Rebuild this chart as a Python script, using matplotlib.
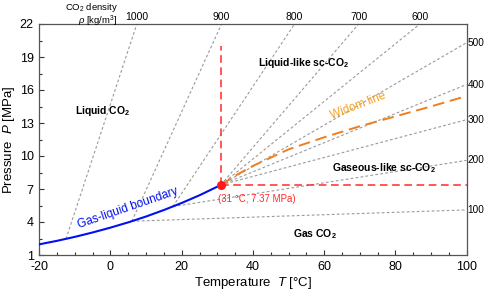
import matplotlib
matplotlib.use("Agg")
import matplotlib.pyplot as plt
import numpy as np

plt.rcParams['font.family'] = ['Liberation Sans', 'DejaVu Sans']
plt.rcParams['mathtext.fontset'] = 'custom'
plt.rcParams['mathtext.rm'] = 'Liberation Sans'
plt.rcParams['mathtext.it'] = 'Liberation Sans:italic'
plt.rcParams['mathtext.bf'] = 'Liberation Sans:bold'
plt.rcParams['axes.unicode_minus'] = False

# Gas-liquid boundary (saturation curve)
boundary_T = [-20, -15, -10, -5, 0, 5, 10, 15, 20, 25, 30, 31]
boundary_P = [1.97, 2.29, 2.65, 3.05, 3.49, 3.97, 4.50, 5.09, 5.73, 6.43, 7.21, 7.37]

# Critical point
crit_T = 31
crit_P = 7.37
red_vertical_top = 20.0

# Widom line
widom_T = [31, 35, 40, 50, 60, 70, 80, 90, 100]
widom_P = [7.37, 8.2, 9.1, 10.6, 11.7, 12.7, 13.6, 14.5, 15.45]

# Isochores (kg/m3)
density = [1000, 900, 800, 700, 600, 500, 400, 300, 200, 100]
iso_T0 = [-12.5, 6.0, 17.5, 31, 31, 31, 31, 31, 17.5, 6.0]
iso_P0 = [2.46, 4.07, 5.40, 7.37, 7.37, 7.37, 7.37, 7.37, 5.40, 4.07]
iso_T1 = [7.4, 31.2, 51.7, 69.7, 86.9, 100, 100, 100, 100, 100]
iso_P1 = [22, 22, 22, 22, 22, 20.3, 16.5, 13.3, 9.6, 5.1]

xmin, xmax = -20, 100
ymin, ymax = 1, 22

fig = plt.figure(figsize=(4.84, 2.90), dpi=100)
ax = fig.add_axes([39.3/484, 1-255/290, (466.5-39.3)/484, (255-24)/290])

for T0, P0, T1, P1 in zip(iso_T0, iso_P0, iso_T1, iso_P1):
    ax.plot([T0, T1], [P0, P1], color='#9a9a9a', lw=0.8, ls=(0, (2.5, 2)), zorder=1)

ax.plot(widom_T, widom_P, color='#F07D1E', lw=1.4, ls=(0, (6, 3)), zorder=2)
ax.plot([crit_T, crit_T], [crit_P, red_vertical_top], color='#FF2A2A', lw=1.1, ls=(0, (5, 3)), zorder=2)
ax.plot([crit_T, xmax], [crit_P, crit_P], color='#FF2A2A', lw=1.1, ls=(0, (5, 3)), zorder=2)
ax.plot(boundary_T, boundary_P, color='#0010F0', lw=1.5, zorder=3)
ax.plot([crit_T], [crit_P], 'o', color='#FF1A1A', ms=5.5, zorder=4)

ax.set_xlim(xmin, xmax)
ax.set_ylim(ymin, ymax)
ax.set_xticks(np.arange(-20, 101, 20))
ax.set_xticks(np.arange(-20, 101, 5), minor=True)
ax.set_yticks(np.arange(1, 23, 3))
ax.set_yticks(np.arange(1, 23, 1.5), minor=True)
ax.tick_params(which='both', direction='in', top=False, right=False, labelsize=9, colors='#333333', labelcolor='black')
ax.tick_params(which='major', length=3.5, width=0.8)
ax.tick_params(which='minor', length=2, width=0.8)
ax.tick_params(axis='x', pad=4)
ax.tick_params(axis='y', pad=4)
for s in ax.spines.values():
    s.set_color('#555555')
    s.set_linewidth(0.9)

ax.set_xlabel(r'Temperature  $T$ [°C]', fontsize=9.5, labelpad=2)
ax.set_ylabel(r'Pressure  $P$ [MPa]', fontsize=9.5, labelpad=2)

# density labels on top / right
top_T = [T1 for T1, P1 in zip(iso_T1, iso_P1) if P1 >= ymax]
top_lab = [str(d) for d, P1 in zip(density, iso_P1) if P1 >= ymax]
right_P = [P1 for T1, P1 in zip(iso_T1, iso_P1) if P1 < ymax]
right_lab = [str(d) for d, P1 in zip(density, iso_P1) if P1 < ymax]
for T, lab in zip(top_T, top_lab):
    ax.annotate(lab, (T, ymax), xytext=(0, 1.5), textcoords='offset points', ha='center', va='bottom', fontsize=7.5)
for P, lab in zip(right_P, right_lab):
    ax.annotate(lab, (xmax, P), xytext=(0.8, 0), textcoords='offset points', ha='left', va='center', fontsize=7.2)

fig.text(118/484, 1-0.5/290, 'CO$_2$ density\n$\\rho$ [kg/m$^3$]', ha='right', va='top',
         multialignment='right', fontsize=6.8, linespacing=1.05)

# region labels
ax.text(-2.2, 14.1, r'Liquid CO$_\mathbf{2}$', fontsize=7.5, fontweight='bold', ha='center', va='center')
ax.text(54.3, 18.5, r'Liquid-like sc-CO$_\mathbf{2}$', fontsize=7.5, fontweight='bold', ha='center', va='center')
ax.text(76.7, 8.9, r'Gaseous-like sc-CO$_\mathbf{2}$', fontsize=7.5, fontweight='bold', ha='center', va='center')
ax.text(57.3, 2.9, r'Gas CO$_\mathbf{2}$', fontsize=7.5, fontweight='bold', ha='center', va='center')
ax.text(69.5, 14.6, 'Widom line', fontsize=8.5, color='#F5A21E', rotation=21, ha='center', va='center', rotation_mode='anchor')
ax.text(5, 5.3, 'Gas-liquid boundary', fontsize=8.5, color='#0010F0', rotation=19, ha='center', va='center', rotation_mode='anchor')
ax.text(41.1, 6.1, '(31 °C, 7.37 MPa)', fontsize=7, color='#FF2A2A', ha='center', va='center')

fig.savefig('out.png', dpi=100)
